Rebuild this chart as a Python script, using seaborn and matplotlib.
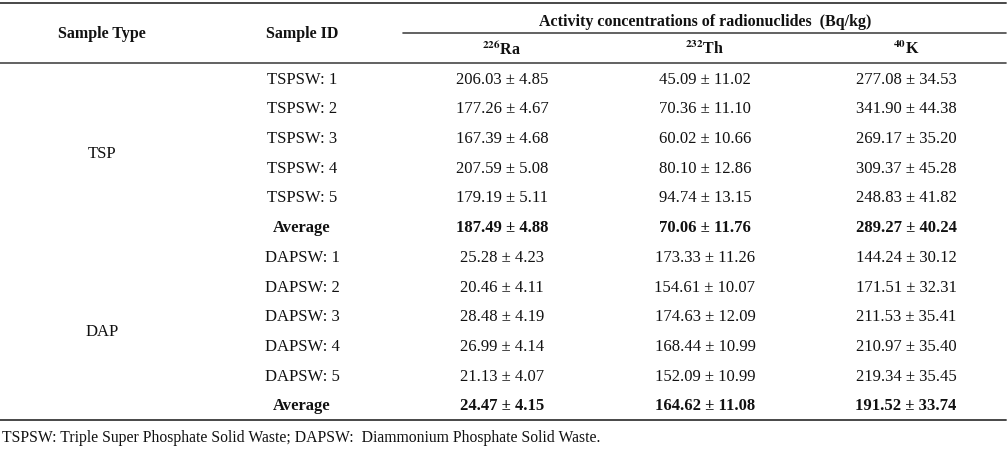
import numpy as np
import pandas as pd
import seaborn as sns
import matplotlib.pyplot as plt

# Table content
sample_types = ["TSP", "DAP"]
sample_ids = ["TSPSW: 1", "TSPSW: 2", "TSPSW: 3", "TSPSW: 4", "TSPSW: 5", "Average",
              "DAPSW: 1", "DAPSW: 2", "DAPSW: 3", "DAPSW: 4", "DAPSW: 5", "Average"]
ra_226 = [206.03, 177.26, 167.39, 207.59, 179.19, 187.49,
          25.28, 20.46, 28.48, 26.99, 21.13, 24.47]
ra_226_err = [4.85, 4.67, 4.68, 5.08, 5.11, 4.88,
              4.23, 4.11, 4.19, 4.14, 4.07, 4.15]
th_232 = [45.09, 70.36, 60.02, 80.10, 94.74, 70.06,
          173.33, 154.61, 174.63, 168.44, 152.09, 164.62]
th_232_err = [11.02, 11.10, 10.66, 12.86, 13.15, 11.76,
              11.26, 10.07, 12.09, 10.99, 10.99, 11.08]
k_40 = [277.08, 341.90, 269.17, 309.37, 248.83, 289.27,
        144.24, 171.51, 211.53, 210.97, 219.34, 191.52]
k_40_err = [34.53, 44.38, 35.20, 45.28, 41.82, 40.24,
            30.12, 32.31, 35.41, 35.40, 35.45, 33.74]
nuclide_labels = [r"$^{\mathbf{226}}$Ra", r"$^{\mathbf{232}}$Th", r"$^{\mathbf{40}}$K"]
group_header = "Activity concentrations of radionuclides  (Bq/kg)"
footnote = "TSPSW: Triple Super Phosphate Solid Waste; DAPSW:  Diammonium Phosphate Solid Waste."

df = pd.DataFrame({
    "id": sample_ids,
    "ra": [f"{v:.2f} ± {e:.2f}" for v, e in zip(ra_226, ra_226_err)],
    "th": [f"{v:.2f} ± {e:.2f}" for v, e in zip(th_232, th_232_err)],
    "k": [f"{v:.2f} ± {e:.2f}" for v, e in zip(k_40, k_40_err)],
})
df["bold"] = df["id"] == "Average"

sns.set_theme(style="white")
plt.rcParams["font.family"] = ["Liberation Serif", "DejaVu Serif"]
plt.rcParams["mathtext.fontset"] = "stix"

W, H = 1008, 449
fig = plt.figure(figsize=(W / 100, H / 100), dpi=100)
ax = fig.add_axes([0, 0, 1, 1])
ax.set_xlim(0, W)
ax.set_ylim(H, 0)
ax.axis("off")

line_color = "#474747"
text_color = "#111111"
fs = 12

# column centres
col_x = [102, 302, 502, 705, 906]
row0 = 83.6
row_step = 29.7

# rules
ax.plot([0, 1006], [3, 3], color=line_color, lw=1.4)
ax.plot([403, 1006], [33, 33], color=line_color, lw=1.2)
ax.plot([0, 1006], [63, 63], color=line_color, lw=1.2)
ax.plot([0, 1006], [419.5, 419.5], color=line_color, lw=1.4)

# headers
ax.text(col_x[0], 38.5, "Sample Type", ha="center", va="baseline",
        fontsize=11.5, fontweight="bold", color=text_color)
ax.text(col_x[1], 38.5, "Sample ID", ha="center", va="baseline",
        fontsize=11.5, fontweight="bold", color=text_color)
ax.text(705, 25.5, group_header, ha="center", va="baseline",
        fontsize=11.5, fontweight="bold", color=text_color)
for x, lab in zip(col_x[2:], nuclide_labels):
    ax.text(x, 53.5, lab, ha="center", va="baseline",
            fontsize=11.5, fontweight="bold", color=text_color)

# body
for i, row in df.iterrows():
    y = row0 + i * row_step
    w = "bold" if row["bold"] else "normal"
    ax.text(col_x[1], y, row["id"], ha="center", va="baseline",
            fontsize=fs, fontweight=w, color=text_color)
    for x, key in zip(col_x[2:], ["ra", "th", "k"]):
        ax.text(x, y, row[key], ha="center", va="baseline",
                fontsize=fs, fontweight=w, color=text_color)

# group labels centred on their six rows
n_per = len(sample_ids) // len(sample_types)
for g, name in enumerate(sample_types):
    y = row0 + (g * n_per + (n_per - 1) / 2) * row_step
    ax.text(col_x[0], y, name, ha="center", va="baseline",
            fontsize=fs, color=text_color)

ax.text(2, 441.5, footnote, ha="left", va="baseline", fontsize=11.3, color=text_color)

fig.savefig("out.png", dpi=100)
